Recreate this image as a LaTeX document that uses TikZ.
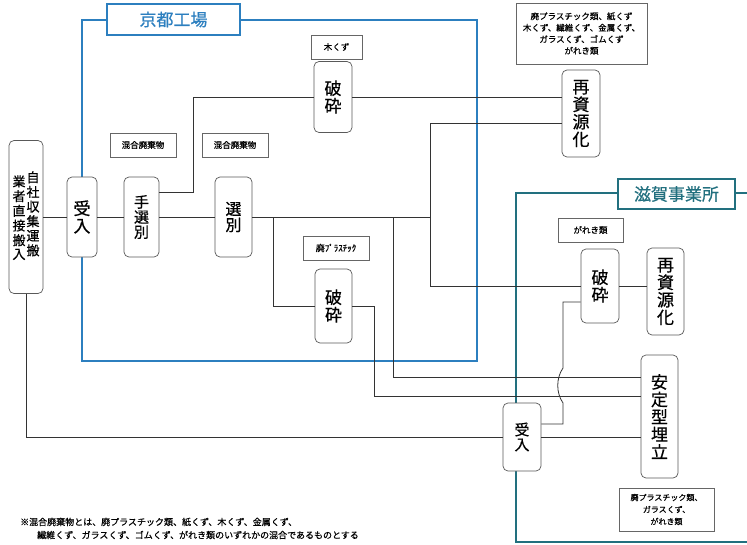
\documentclass[tikz,border=0pt]{standalone}
\usepackage{fontspec}
\setmainfont{Noto Sans CJK JP}[FakeBold=0.6]

\definecolor{kyoto}{HTML}{2C7FBF}
\definecolor{shiga}{HTML}{22707F}
\definecolor{ink}{HTML}{333333}

\begin{document}
\begin{tikzpicture}[x=1pt,y=-1pt,
    proc/.style={draw=black!65,rounded corners=5pt,fill=white,inner sep=0pt,align=center,
                 line width=0.7pt,font=\fontsize{17}{17.5}\selectfont},
    srcbox/.style={draw=black!65,rounded corners=5pt,fill=white,inner sep=0pt,line width=0.7pt},
    tag/.style={draw=black!60,fill=white,inner sep=0pt,align=center,line width=0.6pt,
                font=\fontsize{8.5}{11.5}\selectfont},
    site/.style={draw=#1,fill=white,text=#1,line width=1.2pt,inner sep=0pt,
                 font=\fontsize{17}{17}\selectfont},
    frame/.style={draw=#1,line width=1.3pt},
    flow/.style={draw=ink,line width=0.8pt},
    note/.style={anchor=west,inner sep=0pt,font=\fontsize{9}{11}\selectfont}]

  \useasboundingbox (0,0) rectangle (747,544);

  % sites
  \draw[frame=kyoto] (82,20) rectangle (477,361);
  \draw[frame=shiga] (747,193) -- (516,193) -- (516,542) -- (747,542);
  \node[site=kyoto,minimum width=133pt,minimum height=31pt] (kyoto) at (173.5,19.5) {京都工場};
  \node[site=shiga,minimum width=117pt,minimum height=30pt] (shiga) at (676.5,194) {滋賀事業所};

  % process boxes
  \node[srcbox,minimum width=34pt,minimum height=153pt] (direct) at (26,217)
    {\fontsize{13}{12.5}\selectfont
     \raisebox{-4pt}{\begin{tabular}{@{}c@{}}業\\者\\直\\接\\搬\\入\end{tabular}}%
     \hspace{1pt}%
     \begin{tabular}{@{}c@{}}自\\社\\収\\集\\運\\搬\end{tabular}};
  \node[proc,minimum width=30pt,minimum height=80pt] (ukeK) at (82,217) {受\\入};
  \node[proc,minimum width=35pt,minimum height=80pt,font=\fontsize{15}{15}\selectfont] (tesen) at (141.5,217) {手\\選\\別};
  \node[proc,minimum width=37pt,minimum height=80pt,font=\fontsize{16}{16}\selectfont] (senbetsu) at (233.5,217) {選\\別};
  \node[proc,minimum width=38pt,minimum height=71pt] (hasaiU) at (333,97) {破\\砕};
  \node[proc,minimum width=37pt,minimum height=74pt] (hasaiL) at (333.5,306) {破\\砕};
  \node[proc,minimum width=38pt,minimum height=87pt] (saiA) at (581,113.5) {再\\資\\源\\化};
  \node[proc,minimum width=38pt,minimum height=74pt] (hasaiS) at (600,286) {破\\砕};
  \node[proc,minimum width=37pt,minimum height=87pt] (saiB) at (665.5,291.5) {再\\資\\源\\化};
  \node[proc,minimum width=38pt,minimum height=68pt,font=\fontsize{15}{15}\selectfont] (ukeS) at (522,437) {受\\入};
  \node[proc,minimum width=37pt,minimum height=123pt] (antei) at (659.5,416.5) {安\\定\\型\\埋\\立};

  % waste labels
  \node[tag,minimum width=66pt,minimum height=24pt] (mixA) at (143,145) {混合廃棄物};
  \node[tag,minimum width=66pt,minimum height=24pt] (mixB) at (235,145) {混合廃棄物};
  \node[tag,minimum width=51pt,minimum height=24pt] (wood) at (336.5,47) {木くず};
  \node[tag,minimum width=66pt,minimum height=24pt,font=\fontsize{9}{11}\selectfont] (plast) at (336,248) {廃ﾌﾟﾗｽﾁｯｸ};
  \node[tag,minimum width=65pt,minimum height=24pt] (gareki) at (590.5,230) {がれき類};
  \node[tag,minimum width=131pt,minimum height=61pt] (recyc) at (581.5,33.5)
    {廃プラスチック類、紙くず\\木くず、繊維くず、金属くず、\\ガラスくず、ゴムくず\\がれき類};
  \node[tag,minimum width=95pt,minimum height=43pt,font=\fontsize{8}{12}\selectfont] (landf) at (666.5,509.5)
    {廃プラスチック類、\\ガラスくず、\\がれき類};

  % junctions
  \coordinate (k1) at (193,97);
  \coordinate (k2) at (273,217);
  \coordinate (k3) at (374,396);
  \coordinate (k4) at (393,217);
  \coordinate (k5) at (393,377);
  \coordinate (j1) at (430,217);
  \coordinate (jtop) at (430,123);
  \coordinate (jbot) at (430,286);
  \coordinate (h1) at (563,368);
  \coordinate (h2) at (563,403);
  \coordinate (h3) at (563,424);

  % flows
  \draw[flow] (direct) -- (ukeK);
  \draw[flow] (ukeK) -- (tesen);
  \draw[flow] (tesen) -- (senbetsu);
  \draw[flow] (senbetsu) -- (j1);
  \draw[flow] ([yshift=25pt]tesen.east) -| (k1) -- (hasaiU);
  \draw[flow] (hasaiU) -- (saiA.west |- hasaiU);
  \draw[flow] (saiA.west |- jtop) -- (jtop) -- (jbot) -- (hasaiS);
  \draw[flow] (hasaiS) -- (saiB.west |- hasaiS);
  \draw[flow] (k2) |- (hasaiL);
  \draw[flow] (hasaiL) -| (k3) -- (antei.west |- k3);
  \draw[flow] (k4) -- (k5) -- (antei.west |- k5);
  \draw[flow] ([yshift=-16pt]hasaiS.west) -| (h1)
      .. controls (556,378) and (556,393) .. (h2) -- (h3) -- (ukeS.east |- h3);
  \draw[flow] (direct) |- (ukeS);
  \draw[flow] (ukeS) -- (antei.west |- ukeS);

  % footnote
  \node[note] (note1) at (20,522) {※混合廃棄物とは、廃プラスチック類、紙くず、木くず、金属くず、};
  \node[note] (note2) at (37,535) {繊維くず、ガラスくず、ゴムくず、がれき類のいずれかの混合であるものとする};
\end{tikzpicture}
\end{document}
